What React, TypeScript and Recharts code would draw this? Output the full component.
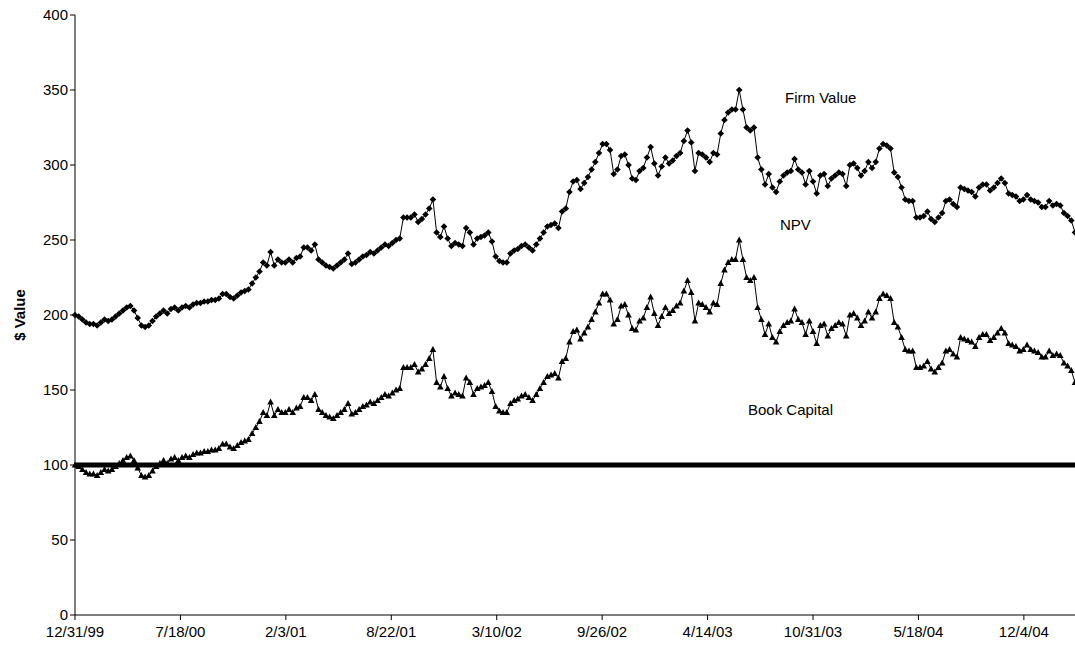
import { LineChart, Line, XAxis, YAxis, ReferenceLine } from 'recharts'

// weekly observations starting 12/31/99
const firmValue = [
  200, 199, 197, 195, 194, 194, 193, 195, 197, 196,
  197, 199, 201, 203, 205, 206, 203, 198, 193, 192,
  193, 196, 199, 201, 203, 201, 204, 205, 203, 205,
  206, 205, 207, 208, 208, 209, 209, 210, 210, 211,
  214, 214, 212, 211, 213, 215, 216,
  217, 221, 225, 229, 235, 233, 242, 233, 237, 235, 235, 237, 235, 238, 239, 245, 245, 243, 247, 237, 235,
  233, 232, 231, 233, 235, 237, 241, 234, 235, 237, 239, 240, 242, 241, 243, 245, 247, 246, 248, 250, 251,
  265, 265, 265, 267, 262, 264, 267, 271, 277, 255, 252, 259, 251,
  246, 248, 247, 246, 258, 255, 247, 251, 252, 253, 255, 249, 239, 236, 235, 235, 241, 243, 244, 246,
  247, 245, 243, 247, 251, 255, 259, 260, 261, 258, 269, 271, 282, 289,
  290, 284, 288, 292, 297, 302, 308, 314, 314, 310, 294, 297, 306, 307, 300, 291, 290, 296, 298, 305,
  312, 301, 293, 299, 305, 301, 303, 306, 308, 316, 323, 315, 296, 308, 307, 305,
  302, 308, 307, 321, 330, 335, 337, 337, 350, 337, 325, 323, 325, 305, 297, 287, 294, 285, 282, 289,
  293, 295, 296, 304, 297, 295, 287, 296, 289, 281, 293, 294, 286,
  291, 293, 295, 294, 286, 300, 301, 298, 293, 296, 302, 298, 302, 311, 314, 313, 311, 295, 292, 285,
  277, 276, 276, 265, 265, 266, 269, 264, 262, 265, 268, 276, 277, 274, 272,
  285, 284, 283, 282, 279, 285, 287, 287, 283, 285, 288, 291, 288, 281, 280, 279, 276, 277, 280, 277,
  276, 275, 272, 272, 276, 273, 274, 273, 268, 266, 263, 255,
]

const npv = [
  100, 99, 97, 95, 94, 94, 93, 95, 97, 96,
  97, 99, 101, 103, 105, 106, 103, 98, 93, 92,
  93, 96, 99, 101, 103, 101, 104, 105, 103, 105,
  106, 105, 107, 108, 108, 109, 109, 110, 110, 111,
  114, 114, 112, 111, 113, 115, 116,
  117, 121, 125, 129, 135, 133, 142, 133, 137, 135, 135, 137, 135, 138, 139, 145, 145, 143, 147, 137, 135,
  133, 132, 131, 133, 135, 137, 141, 134, 135, 137, 139, 140, 142, 141, 143, 145, 147, 146, 148, 150, 151,
  165, 165, 165, 167, 162, 164, 167, 171, 177, 155, 152, 159, 151,
  146, 148, 147, 146, 158, 155, 147, 151, 152, 153, 155, 149, 139, 136, 135, 135, 141, 143, 144, 146,
  147, 145, 143, 147, 151, 155, 159, 160, 161, 158, 169, 171, 182, 189,
  190, 184, 188, 192, 197, 202, 208, 214, 214, 210, 194, 197, 206, 207, 200, 191, 190, 196, 198, 205,
  212, 201, 193, 199, 205, 201, 203, 206, 208, 216, 223, 215, 196, 208, 207, 205,
  202, 208, 207, 221, 230, 235, 237, 237, 250, 237, 225, 223, 225, 205, 197, 187, 194, 185, 182, 189,
  193, 195, 196, 204, 197, 195, 187, 196, 189, 181, 193, 194, 186,
  191, 193, 195, 194, 186, 200, 201, 198, 193, 196, 202, 198, 202, 211, 214, 213, 211, 195, 192, 185,
  177, 176, 176, 165, 165, 166, 169, 164, 162, 165, 168, 176, 177, 174, 172,
  185, 184, 183, 182, 179, 185, 187, 187, 183, 185, 188, 191, 188, 181, 180, 179, 176, 177, 180, 177,
  176, 175, 172, 172, 176, 173, 174, 173, 168, 166, 163, 155,
]

const bookCapital = 100

const xTickDays = [0, 200, 400, 600, 800, 1000, 1200, 1400, 1600, 1800]
const xTickLabels = ['12/31/99', '7/18/00', '2/3/01', '8/22/01', '3/10/02', '9/26/02', '4/14/03', '10/31/03', '5/18/04', '12/4/04']
const yTicks = [0, 50, 100, 150, 200, 250, 300, 350, 400]

const FONT = '"Liberation Sans", Arial, sans-serif'

const chartData = firmValue.map((v, i) => ({ day: i * 7, firm: v, npv: npv[i] }))

const Diamond = (props: any) => {
  const { cx, cy, index } = props
  if (cx == null || cy == null) return <g key={index} />
  return <path key={index} d={`M${cx},${cy - 3.3}L${cx + 3.3},${cy}L${cx},${cy + 3.3}L${cx - 3.3},${cy}Z`} fill="#000" />
}

const Triangle = (props: any) => {
  const { cx, cy, index } = props
  if (cx == null || cy == null) return <g key={index} />
  return <path key={index} d={`M${cx},${cy - 3.6}L${cx + 3.3},${cy + 2.6}L${cx - 3.3},${cy + 2.6}Z`} fill="#000" />
}

const labelStyle: React.CSSProperties = { position: 'absolute', fontSize: 15, color: '#000', whiteSpace: 'nowrap', lineHeight: '18px' }

export default function App() {
  return (
    <div style={{ position: 'absolute', left: 0, top: 0, width: 1075, height: 650, background: '#fff', fontFamily: FONT }}>
      <LineChart width={1075} height={650} data={chartData} margin={{ top: 15, right: 0, bottom: 5, left: 10 }}>
        <XAxis
          dataKey="day"
          type="number"
          domain={[0, 1897]}
          ticks={xTickDays}
          tickFormatter={(d: number) => xTickLabels[xTickDays.indexOf(d)] ?? ''}
          tick={{ fill: '#000', fontSize: 15, fontFamily: FONT }}
          axisLine={{ stroke: '#000' }}
          tickLine={{ stroke: '#000' }}
          tickSize={5}
          tickMargin={6}
          height={30}
          interval={0}
        />
        <YAxis
          domain={[0, 400]}
          ticks={yTicks}
          tick={{ fill: '#000', fontSize: 15, fontFamily: FONT }}
          axisLine={{ stroke: '#000' }}
          tickLine={{ stroke: '#000' }}
          tickSize={5}
          width={65}
          interval={0}
        />
        <ReferenceLine y={bookCapital} stroke="#000" strokeWidth={5} />
        <Line
          dataKey="firm"
          type="linear"
          stroke="#000"
          strokeWidth={1}
          dot={Diamond}
          activeDot={false}
          isAnimationActive={false}
        />
        <Line
          dataKey="npv"
          type="linear"
          stroke="#000"
          strokeWidth={1}
          dot={Triangle}
          activeDot={false}
          isAnimationActive={false}
        />
      </LineChart>
      <div style={{ ...labelStyle, left: 785, top: 89 }}>Firm Value</div>
      <div style={{ ...labelStyle, left: 780, top: 216 }}>NPV</div>
      <div style={{ ...labelStyle, left: 748, top: 401 }}>Book Capital</div>
      <div
        style={{
          ...labelStyle,
          left: 20,
          top: 315,
          fontWeight: 'bold',
          transform: 'translate(-50%, -50%) rotate(-90deg)',
        }}
      >
        $ Value
      </div>
    </div>
  )
}
